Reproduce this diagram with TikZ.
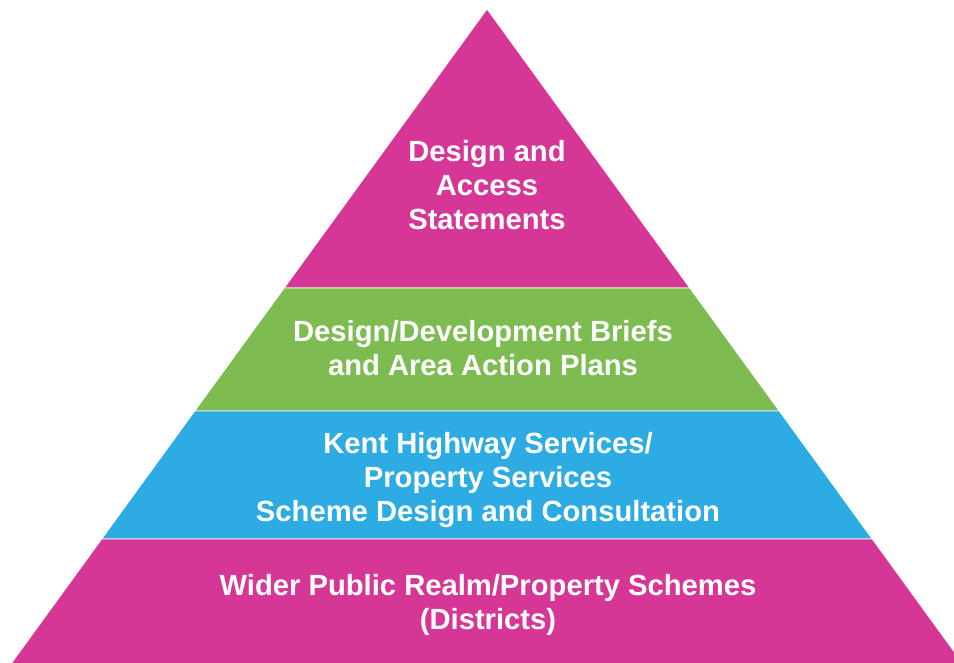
\documentclass[tikz,border=0pt]{standalone}
\usepackage{fontspec}
\setmainfont{Liberation Sans}
\definecolor{tiermagenta}{RGB}{214,54,150}
\definecolor{tiergreen}{RGB}{124,188,80}
\definecolor{tierblue}{RGB}{44,172,226}
\begin{document}
\begin{tikzpicture}[x=0.5pt,y=-0.5pt,
  tier/.style={draw=white, line width=0.4pt},
  tierlabel/.style={text=white, align=center,
    font=\bfseries\fontsize{14.6}{17.2}\selectfont}]
  \useasboundingbox (0,0) rectangle (954,663);
  \clip (0,0) rectangle (954,663);
  % corners of the bands
  \coordinate (apex) at (487,9);
  \coordinate (l1) at (284.2,288); \coordinate (r1) at (689.8,288);
  \coordinate (l2) at (194.7,411); \coordinate (r2) at (779.3,411);
  \coordinate (l3) at (101.7,539); \coordinate (r3) at (872.3,539);
  \coordinate (l4) at (6.5,670);   \coordinate (r4) at (967.5,670);
  % bands
  \filldraw[tier, fill=tiermagenta] (apex) -- (r1) -- (l1) -- cycle;
  \filldraw[tier, fill=tiergreen] (l1) -- (r1) -- (r2) -- (l2) -- cycle;
  \filldraw[tier, fill=tierblue] (l2) -- (r2) -- (r3) -- (l3) -- cycle;
  \filldraw[tier, fill=tiermagenta] (l3) -- (r3) -- (r4) -- (l4) -- cycle;
  % labels
  \node[tierlabel] (statements) at (487,185) {Design and\\Access\\Statements};
  \node[tierlabel] (briefs) at (483,348) {Design/Development Briefs\\and Area Action Plans};
  \node[tierlabel] (highways) at (488,480) {Kent Highway Services/\\Property Services\\Scheme Design and Consultation};
  \node[tierlabel] (schemes) at (488,605) {Wider Public Realm/Property Schemes\\(Districts)};
\end{tikzpicture}
\end{document}
